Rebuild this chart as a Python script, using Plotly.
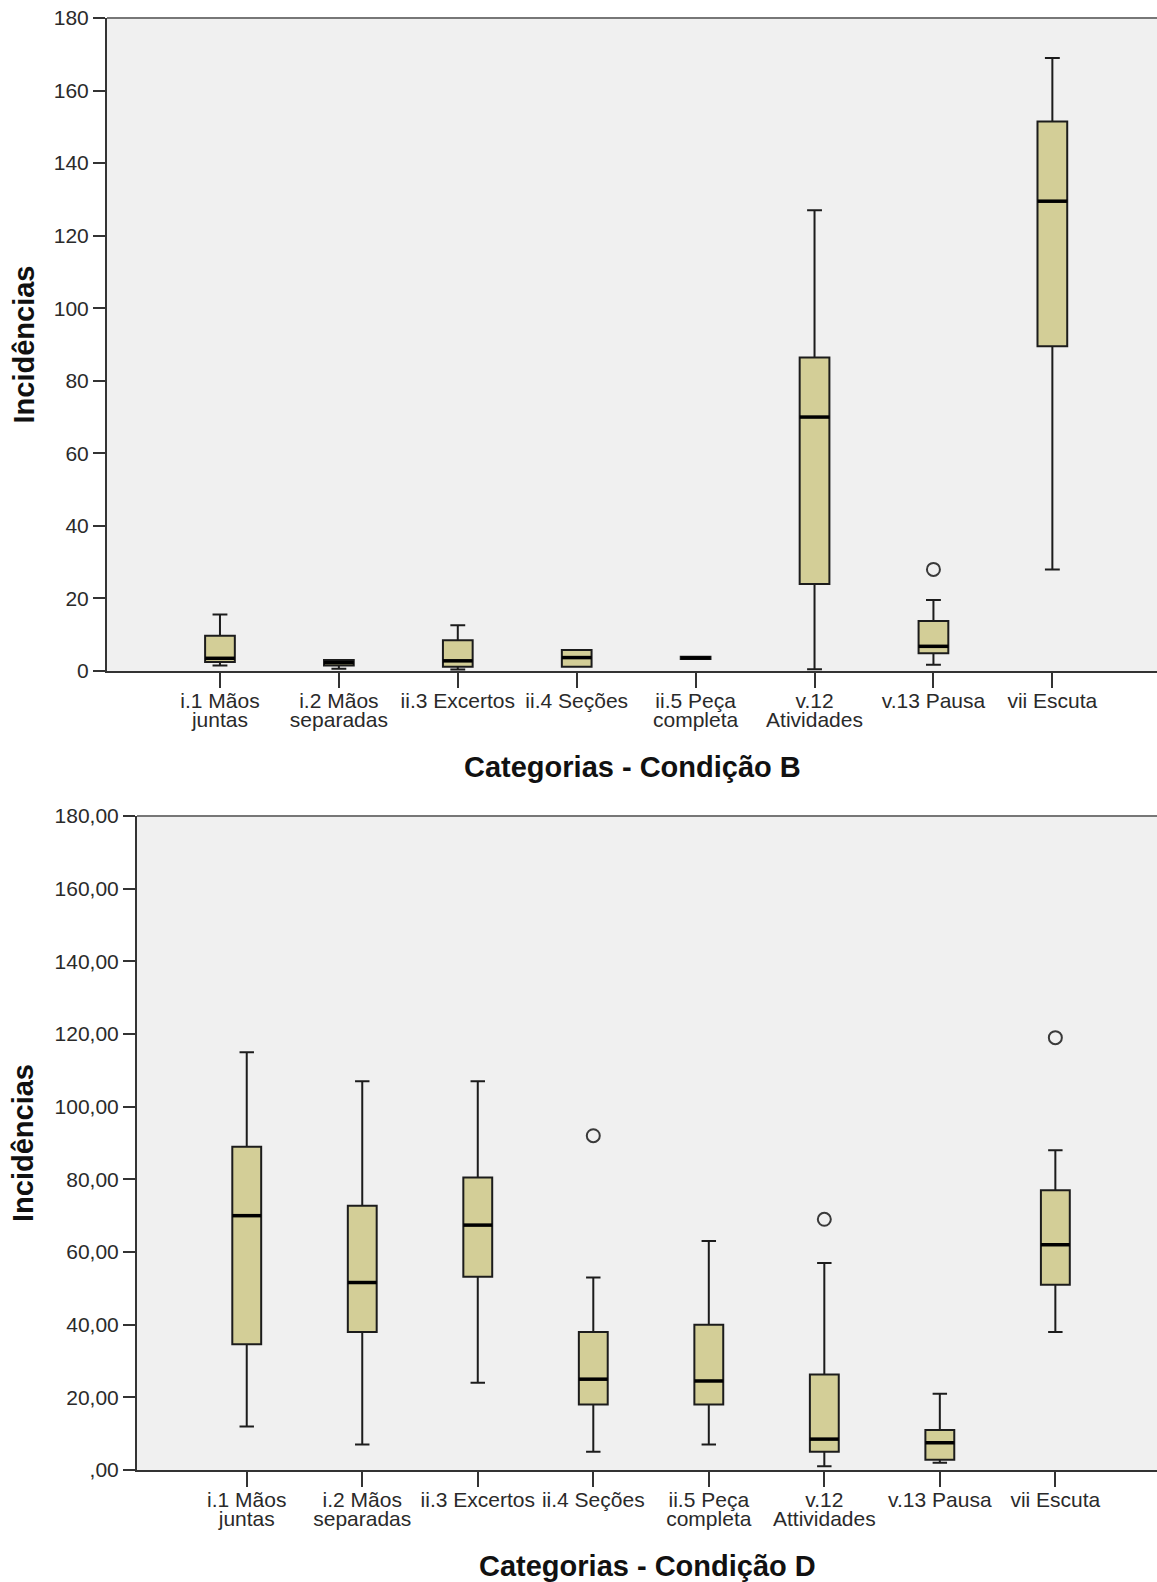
import plotly.graph_objects as go

# Category labels (two text lines each; second line may be empty)
labels_b_line1 = ["i.1 Mãos", "i.2 Mãos", "ii.3 Excertos", "ii.4 Seções",
                  "ii.5 Peça", "v.12", "v.13 Pausa", "vii Escuta"]
labels_b_line2 = ["juntas", "separadas", "", "", "completa", "Atividades", "", ""]
labels_d_line1 = ["i.1 Mãos", "i.2 Mãos", "ii.3 Excertos", "ii.4 Seções",
                  "ii.5 Peça", "v.12", "v.13 Pausa", "vii Escuta"]
labels_d_line2 = ["juntas", "separadas", "", "", "completa", "Attividades", "", ""]

# Condição B: five-number summaries per category
b_low = [1.5, 0.6, 0.4, 1.2, 3.3, 0.5, 1.7, 28]
b_q1 = [2.5, 1.5, 1.2, 1.2, 3.3, 24, 4.9, 89.5]
b_med = [3.5, 2.3, 2.8, 3.7, 3.6, 70, 6.8, 129.5]
b_q3 = [9.7, 3.0, 8.5, 5.8, 3.9, 86.4, 13.8, 151.5]
b_high = [15.6, 3.0, 12.6, 5.8, 3.9, 127, 19.6, 169]
b_out_idx = [6]
b_out_val = [28]

# Condição D: five-number summaries per category
d_low = [12, 7, 24, 5, 7, 1, 2, 38]
d_q1 = [34.6, 38, 53.2, 18, 18, 5, 2.8, 51]
d_med = [70, 51.6, 67.4, 25, 24.5, 8.5, 7.5, 62]
d_q3 = [89, 72.7, 80.5, 38, 40, 26.3, 11, 77]
d_high = [115, 107, 107, 53, 63, 57, 21, 88]
d_out_idx = [3, 5, 7]
d_out_val = [92, 69, 119]

# Axis ticks
y_ticks = list(range(0, 181, 20))
y_text_b = [str(v) for v in y_ticks]
y_text_d = [",00" if v == 0 else f"{v},00" for v in y_ticks]

W, H = 1157, 1582
BOX_W = 0.25
FILL = "#D3CE97"
EDGE = "#1c1c1c"
FONT = "Liberation Sans, Arial, sans-serif"
TICK_FONT = dict(family=FONT, size=21, color="#2a2a2a")
TITLE_FONT = dict(family=FONT, size=29, color="#111", weight="bold")

fig = go.Figure()


def add_panel(xa, xa2, ya, low, q1, med, q3, high, out_idx, out_val):
    n = len(med)
    pos = list(range(n))
    fig.add_trace(go.Box(
        x=pos, lowerfence=low, q1=q1, median=med, q3=q3, upperfence=high,
        width=BOX_W, whiskerwidth=0.5, fillcolor=FILL,
        line=dict(color=EDGE, width=2), boxpoints=False,
        xaxis=xa, yaxis=ya, hoverinfo="skip",
    ))
    # thicker median bars
    mx, my = [], []
    for i, m in enumerate(med):
        mx += [i - BOX_W / 2, i + BOX_W / 2, None]
        my += [m, m, None]
    fig.add_trace(go.Scatter(
        x=mx, y=my, mode="lines", line=dict(color="#000", width=3.5),
        xaxis=xa2, yaxis=ya, hoverinfo="skip",
    ))
    # outliers
    fig.add_trace(go.Scatter(
        x=out_idx, y=out_val, mode="markers",
        marker=dict(symbol="circle-open", size=13, color="#3a3a3a",
                    line=dict(width=2, color="#3a3a3a")),
        xaxis=xa, yaxis=ya, hoverinfo="skip",
    ))


add_panel("x", "x3", "y", b_low, b_q1, b_med, b_q3, b_high, b_out_idx, b_out_val)
add_panel("x2", "x4", "y2", d_low, d_q1, d_med, d_q3, d_high, d_out_idx, d_out_val)

# Pixel geometry of the two panels
top = dict(left=107, y0=18, y1=671)
bot = dict(left=137, y0=816, y1=1470)
X_RANGE = [-0.95, 7.88]


def xaxis_main(panel, anchor, line1):
    return dict(
        domain=[panel["left"] / W, 1], range=X_RANGE, anchor=anchor,
        tickmode="array", tickvals=list(range(8)), ticktext=line1,
        ticks="outside", ticklen=15, tickwidth=2, tickcolor="#333",
        showline=True, linecolor="#333", linewidth=2,
        showgrid=False, zeroline=False, tickfont=TICK_FONT,
        ticklabelstandoff=-5, automargin=False, fixedrange=True,
    )


def xaxis_second(match, anchor, line2):
    return dict(
        matches=match, overlaying=match, anchor=anchor, side="bottom",
        tickmode="array", tickvals=list(range(8)), ticktext=line2,
        ticks="", showline=False, showgrid=False, zeroline=False,
        tickfont=TICK_FONT, ticklabelstandoff=34, automargin=False,
    )


def yaxis(panel, anchor, text):
    return dict(
        domain=[1 - panel["y1"] / H, 1 - panel["y0"] / H], range=[0, 180],
        anchor=anchor, tickmode="array", tickvals=y_ticks, ticktext=text,
        ticks="outside", ticklen=12, tickwidth=2, tickcolor="#333",
        showline=True, linecolor="#333", linewidth=2,
        showgrid=False, zeroline=False, tickfont=TICK_FONT,
        automargin=False, fixedrange=True,
    )


fig.update_layout(
    width=W, height=H, margin=dict(l=0, r=0, t=0, b=0),
    paper_bgcolor="white", plot_bgcolor="#F0F0F0", showlegend=False,
    font=dict(family=FONT),
    xaxis=xaxis_main(top, "y", labels_b_line1),
    xaxis3=xaxis_second("x", "y", labels_b_line2),
    yaxis=yaxis(top, "x", y_text_b),
    xaxis2=xaxis_main(bot, "y2", labels_d_line1),
    xaxis4=xaxis_second("x2", "y2", labels_d_line2),
    yaxis2=yaxis(bot, "x2", y_text_d),
)

# grey frame line along the top of each plot area
for xr, yr in (("x domain", "y domain"), ("x2 domain", "y2 domain")):
    fig.add_shape(type="line", xref=xr, yref=yr, x0=0, x1=1, y0=1, y1=1,
                  line=dict(color="#777", width=2), layer="above")

# axis titles
for panel, name in ((top, "Categorias - Condição B"), (bot, "Categorias - Condição D")):
    cx = (panel["left"] + W) / 2 / W
    fig.add_annotation(text=name, xref="paper", yref="paper", x=cx,
                       y=1 - (panel["y1"] + 96) / H, xanchor="center", yanchor="middle",
                       showarrow=False, font=TITLE_FONT)
    fig.add_annotation(text="Incidências", xref="paper", yref="paper", x=23 / W,
                       y=1 - (panel["y0"] + panel["y1"]) / 2 / H, textangle=-90,
                       xanchor="center", yanchor="middle", showarrow=False,
                       font=TITLE_FONT)

fig.write_html("out.html")
